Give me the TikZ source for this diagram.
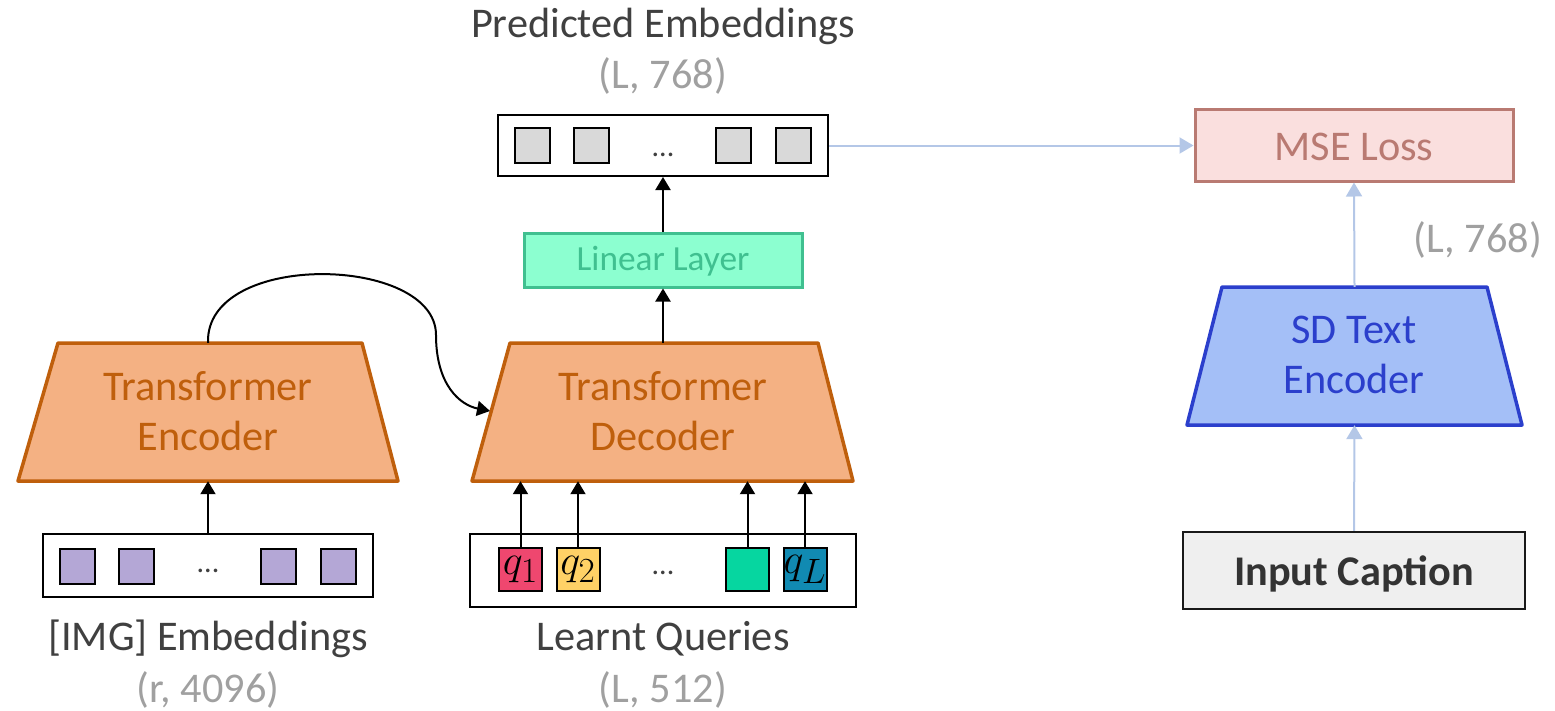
\documentclass[tikz,border=0pt]{standalone}
\usepackage{graphicx}
\usepackage{fontspec}
\setmainfont{Carlito}
\usetikzlibrary{arrows.meta}
\definecolor{txt}{HTML}{404040}
\definecolor{dimc}{HTML}{A0A0A0}
\definecolor{orfill}{HTML}{F4B183}
\definecolor{ordraw}{HTML}{BF5F0C}
\definecolor{linfill}{HTML}{8CFFD0}
\definecolor{lindraw}{HTML}{40C090}
\definecolor{msefill}{HTML}{FADFDE}
\definecolor{msedraw}{HTML}{B97A72}
\definecolor{sdfill}{HTML}{A4BFF7}
\definecolor{sddraw}{HTML}{2B3FCC}
\definecolor{capfill}{HTML}{EFEFEF}
\definecolor{lblue}{HTML}{B4C7E7}
\definecolor{purp}{HTML}{B4A7D6}
\definecolor{grsq}{HTML}{D9D9D9}
\definecolor{qa}{HTML}{EF476F}
\definecolor{qb}{HTML}{FFD166}
\definecolor{qc}{HTML}{06D6A0}
\definecolor{qd}{HTML}{118AB2}
\newcommand{\qlab}[1]{\scalebox{1.7}{$#1$}}
\begin{document}
\begin{tikzpicture}[x=1pt,y=-1pt,
  lbl/.style={font=\fontsize{42.3}{50}\selectfont, text=txt, anchor=base, inner sep=0},
  dim/.style={lbl, text=dimc},
  dotlbl/.style={font=\fontsize{30}{34}\selectfont, text=txt, anchor=base, inner sep=0},
  rowbox/.style={draw=black, line width=2, inner sep=0, minimum width=#1},
  sq/.style={draw=black, line width=2, inner sep=0, minimum size=35},
  qsq/.style={draw=black, line width=2, inner sep=0, minimum size=43, font=\Huge},
  arr/.style={line width=2, draw=black, -{Triangle[width=15,length=13]}},
  larr/.style={line width=2, draw=lblue, -{Triangle[width=16,length=14]}},
  trap/.style={line width=3.5, line join=round},
  ghost/.style={inner sep=0, minimum width=#1, minimum height=138}
]
\useasboundingbox (0,0) rectangle (1555,710);

% ---------- Transformer Encoder ----------
\draw[trap, fill=orfill, draw=ordraw] (58,343) -- (362,343) -- (398,481) -- (18,481) -- cycle;
\node[ghost=304] (enc) at (208,412) {};
\node[lbl, text=ordraw] (encT1) at (208,400) {Transformer};
\node[lbl, text=ordraw] (encT2) at (208,450) {Encoder};

% ---------- Transformer Decoder ----------
\draw[trap, fill=orfill, draw=ordraw] (510,343) -- (818,343) -- (853,481) -- (472,481) -- cycle;
\node[ghost=308] (dec) at (663,412) {};
\node[lbl, text=ordraw] (decT1) at (663,400) {Transformer};
\node[lbl, text=ordraw] (decT2) at (663,450) {Decoder};
\coordinate (decin) at (490,411);

% ---------- Linear Layer ----------
\node[draw=lindraw, fill=linfill, line width=3, inner sep=0, minimum width=278, minimum height=54] (lin) at (663,260) {};
\node[lbl, font=\fontsize{35.3}{40}\selectfont, text=lindraw] (linT) at (663,270) {Linear Layer};

% ---------- Predicted embeddings ----------
\node[rowbox=330, minimum height=61] (pred) at (663,145.5) {};
\node[sq, fill=grsq] (p1) at (532,145.5) {};
\node[sq, fill=grsq] (p2) at (591.5,145.5) {};
\node[dotlbl] (pdots) at (663,156) {...};
\node[sq, fill=grsq] (p3) at (733,145.5) {};
\node[sq, fill=grsq] (p4) at (793,145.5) {};
\node[lbl] (predT) at (663,37) {Predicted Embeddings};
\node[dim] (predD) at (663,88) {(L, 768)};

% ---------- IMG embeddings ----------
\node[rowbox=330, minimum height=63] (img) at (208,565.5) {};
\node[sq, fill=purp] (i1) at (77.5,566) {};
\node[sq, fill=purp] (i2) at (136.5,566) {};
\node[dotlbl] (idots) at (208,572) {...};
\node[sq, fill=purp] (i3) at (278.5,566) {};
\node[sq, fill=purp] (i4) at (338,566) {};
\node[lbl] (imgT) at (208,650) {[IMG] Embeddings};
\node[dim] (imgD) at (208,702) {(r, 4096)};

% ---------- Learnt queries ----------
\node[rowbox=386, minimum height=73] (qry) at (663,570.5) {};
\node[qsq, fill=qa] (q1) at (520.5,569.5) {\qlab{q_1}};
\node[qsq, fill=qb] (q2) at (578,569.5) {\qlab{q_2}};
\node[dotlbl] (qdots) at (663,574) {...};
\node[qsq, fill=qc] (q3) at (747.5,569.5) {};
\node[qsq, fill=qd] (q4) at (805,569.5) {\qlab{q_L}};
\node[lbl] (qryT) at (663,650) {Learnt Queries};
\node[dim] (qryD) at (663,702) {(L, 512)};

% ---------- MSE / SD / caption ----------
\node[draw=msedraw, fill=msefill, line width=3, inner sep=0, minimum width=318, minimum height=72] (mse) at (1354,145) {};
\node[lbl, text=msedraw] (mseT) at (1354,160) {MSE Loss};
\node[dim] (mseD) at (1478,252) {(L, 768)};

\draw[trap, fill=sdfill, draw=sddraw] (1222,287) -- (1487,287) -- (1522,425) -- (1187,425) -- cycle;
\node[ghost=265] (sd) at (1354.5,356) {};
\node[lbl, text=sddraw] (sdT1) at (1354,343) {SD Text};
\node[lbl, text=sddraw] (sdT2) at (1354,393) {Encoder};

\node[draw=black!90, fill=capfill, line width=2.5, inner sep=0, minimum width=342, minimum height=77] (cap) at (1354,570.5) {};
\node[lbl, text=black!80, font=\fontsize{42.3}{50}\selectfont\bfseries] (capT) at (1354,585) {Input Caption};

% ---------- connectors ----------
\draw[arr] (img.north) -- (enc.south);
\draw[arr] (q1.north) -- (q1.north |- dec.south);
\draw[arr] (q2.north) -- (q2.north |- dec.south);
\draw[arr] (q3.north) -- (q3.north |- dec.south);
\draw[arr] (q4.north) -- (q4.north |- dec.south);
\draw[arr] (dec.north) -- (lin.south);
\draw[arr] (lin.north) -- (pred.south);
\draw[arr] (enc.north) .. controls (205,250) and (436,255) .. (436,335)
  .. controls (436,385) and (460,405) .. (decin);
\draw[larr] (pred.east) -- (pred.east -| mse.west);
\draw[larr] (sd.north) -- (mse.south);
\draw[larr] (cap.north) -- (sd.south);
\end{tikzpicture}
\end{document}
